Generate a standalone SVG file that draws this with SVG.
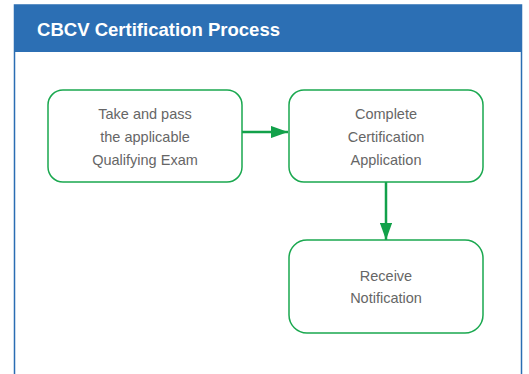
<svg xmlns="http://www.w3.org/2000/svg" width="529" height="374" viewBox="0 0 529 374">
<style>
.box{fill:#fff;stroke:#1aa84f;stroke-width:1.5}
.lbl{font-family:"Liberation Sans",Arial,sans-serif;font-size:14.5px;fill:#666;text-anchor:middle}
.con{stroke:#12a14a;stroke-width:2.5;fill:none}
</style>
<defs>
<marker id="ah" viewBox="0 0 14 10" refX="14" refY="5" markerWidth="7" markerHeight="5" markerUnits="strokeWidth" orient="auto">
<path d="M0,0 L14,5 L0,10 z" fill="#12a14a"/>
</marker>
</defs>
<rect x="0" y="0" width="529" height="374" fill="#fff"/>
<rect x="14.5" y="5" width="507" height="380" fill="#fff" stroke="#2a6db3" stroke-width="1.5"/>
<rect x="14" y="5" width="508" height="47" fill="#2c6fb4"/>
<text x="37" y="36" font-family="Liberation Sans,Arial,sans-serif" font-weight="bold" font-size="19" fill="#fff" textLength="243" lengthAdjust="spacingAndGlyphs">CBCV Certification Process</text>
<g id="connectors">
<line class="con" x1="242" y1="132" x2="288" y2="132" marker-end="url(#ah)"/>
<line class="con" x1="386" y1="182" x2="386" y2="240" marker-end="url(#ah)"/>
</g>
<g id="n1">
<rect class="box" x="48" y="90" width="194" height="92" rx="15"/>
<text class="lbl" x="145" y="119">Take and pass</text>
<text class="lbl" x="145" y="142">the applicable</text>
<text class="lbl" x="145" y="165">Qualifying Exam</text>
</g>
<g id="n2">
<rect class="box" x="289" y="90" width="194" height="92" rx="15"/>
<text class="lbl" x="386" y="119">Complete</text>
<text class="lbl" x="386" y="142">Certification</text>
<text class="lbl" x="386" y="165">Application</text>
</g>
<g id="n3">
<rect class="box" x="289" y="240" width="194" height="93" rx="18"/>
<text class="lbl" x="386" y="281">Receive</text>
<text class="lbl" x="386" y="303">Notification</text>
</g>
</svg>
